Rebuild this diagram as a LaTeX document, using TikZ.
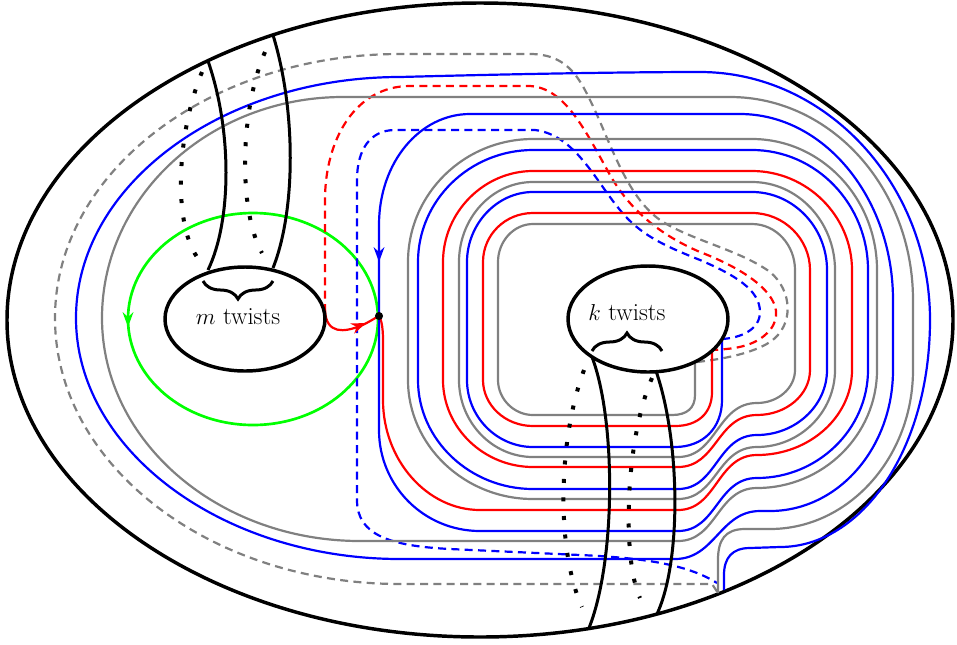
\documentclass[tikz,border=0pt]{standalone}
\usepackage{fontspec}
\usetikzlibrary{decorations.pathreplacing}

\tikzset{every picture/.style={line width=0.75pt}}
\tikzset{
  grayline/.style={color={rgb, 255:red, 128; green, 128; blue, 128 }, line width=1.65pt},
  redline/.style={color={rgb, 255:red, 255; green, 0; blue, 0 }, line width=1.65pt},
  blueline/.style={color={rgb, 255:red, 0; green, 0; blue, 255 }, line width=1.65pt},
  graydashed/.style={grayline, dash pattern=on 6pt off 4pt},
  reddashed/.style={redline, dash pattern=on 6pt off 4pt},
  bluedashed/.style={blueline, dash pattern=on 6pt off 4pt},
  handle/.style={line width=2.25pt},
  handledots/.style={line width=3pt, dash pattern=on 3pt off 10.9pt},
  twistbrace/.style={decorate, decoration={brace, amplitude=13.5pt}, line width=2.25pt},
  twistlabel/.style={font=\fontsize{18.5}{22}\selectfont}
}

\begin{document}
\begin{tikzpicture}[x=0.75pt,y=0.75pt,yscale=-1,xscale=1]
\useasboundingbox (0,0) rectangle (957,644);

%Shape: Ellipse - the surface
\draw [line width=2.6pt] (480,320) ellipse (473 and 317);

%Shape: Ellipse - green loop
\draw [color={rgb, 255:red, 0; green, 255; blue, 0 }, line width=2pt] (253,319) ellipse (125 and 106);
\draw [shift={(128,327)}, rotate = 270] [fill={rgb, 255:red, 0; green, 255; blue, 0 }][line width=0.08] [draw opacity=0] (15,-5.5) -- (0,0) -- (15,5.5) -- (10,0) -- cycle ;

\coordinate (base) at (379,316);

%Curve Lines - gray, back side
\draw [graydashed] (697,362) .. controls (715,360) and (750,355) .. (770,342) .. controls (795,325) and (792,290) .. (770,272) .. controls (740,250) and (690,240) .. (660,220) .. controls (625,195) and (610,140) .. (590,100) .. controls (578,75) and (565,54) .. (530,54) -- (400,54) .. controls (210,54) and (55,172) .. (55,318) .. controls (55,465) and (210,584) .. (400,584) -- (712,584) -- (718,593) ;

%Curve Lines - red, back side
\draw [reddashed] (325,312) -- (325,200) .. controls (325,140) and (355,86) .. (410,86) -- (530,86) .. controls (565,88) and (585,130) .. (610,175) .. controls (630,210) and (660,235) .. (700,252) .. controls (760,275) and (790,305) .. (770,330) .. controls (755,348) and (730,349) .. (712,350) ;

%Curve Lines - blue, back side
\draw [bluedashed] (722,339) .. controls (740,338) and (760,330) .. (760,312) .. controls (760,290) and (735,275) .. (700,260) .. controls (665,246) and (640,235) .. (620,210) .. controls (595,180) and (575,135) .. (535,130) -- (395,130) .. controls (370,130) and (357,150) .. (357,180) -- (357,500) .. controls (357,535) and (390,546) .. (450,549) -- (580,555) .. controls (650,558) and (690,566) .. (717,583) ;

%Curve Lines - gray
\draw [grayline] (695,362) -- (695,395) .. controls (695,408) and (687,415) .. (672,415) -- (533,415)
 .. controls (514,415) and (498,399) .. (498,380) -- (498,262)
 .. controls (498,241) and (514,224) .. (533,224) -- (752,224)
 .. controls (776,224) and (795,245) .. (795,270) -- (795,370)
 .. controls (795,388) and (778,403) .. (757,403)
 .. controls (717,403) and (717,457) .. (678,457) -- (533,457)
 .. controls (492,457) and (459,422) .. (459,380) -- (459,262)
 .. controls (459,218) and (492,182) .. (533,182) -- (752,182)
 .. controls (798,182) and (835,222) .. (835,270) -- (835,370)
 .. controls (835,412) and (800,447) .. (757,447)
 .. controls (717,447) and (717,499) .. (678,499) -- (533,499)
 .. controls (464,499) and (408,445) .. (408,380) -- (408,262)
 .. controls (408,194) and (464,139) .. (533,139) -- (752,139)
 .. controls (821,139) and (877,198) .. (877,270) -- (877,370)
 .. controls (877,435) and (823,488) .. (757,488)
 .. controls (717,488) and (717,541) .. (678,541) -- (360,541)
 .. controls (218,541) and (102,441) .. (102,318)
 .. controls (102,196) and (210,97) .. (343,97) -- (730,97)
 .. controls (831,97) and (913,188) .. (913,300) -- (913,370)
 .. controls (913,457) and (849,529) .. (770,529) -- (745,529)
 .. controls (725,529) and (718,540) .. (718,560) -- (718,593) ;

%Curve Lines - red
\draw [redline] (712,350) -- (712,392) .. controls (712,413) and (698,426) .. (675,426) -- (533,426)
 .. controls (505,426) and (483,405) .. (483,380) -- (483,262)
 .. controls (483,235) and (505,213) .. (533,213) -- (752,213)
 .. controls (784,213) and (810,239) .. (810,270) -- (810,370)
 .. controls (810,395) and (786,415) .. (757,415)
 .. controls (717,415) and (717,467) .. (678,467) -- (533,467)
 .. controls (484,467) and (443,428) .. (443,380) -- (443,262)
 .. controls (443,212) and (484,171) .. (533,171) -- (752,171)
 .. controls (807,171) and (852,216) .. (852,270) -- (852,370)
 .. controls (852,417) and (809,455) .. (757,455)
 .. controls (717,455) and (717,510) .. (678,510) -- (480,510)
 .. controls (427,510) and (383,460) .. (383,400) -- (383,340)
 .. controls (383,326) and (381,319) .. (base) ;

%Curve Lines - blue
\draw [blueline] (722,339) -- (722,400) .. controls (722,428) and (703,447) .. (675,447) -- (533,447)
 .. controls (497,447) and (467,417) .. (467,380) -- (467,262)
 .. controls (467,224) and (497,192) .. (533,192) -- (752,192)
 .. controls (793,192) and (827,227) .. (827,270) -- (827,370)
 .. controls (827,406) and (795,435) .. (757,435)
 .. controls (717,435) and (717,489) .. (678,489) -- (533,489)
 .. controls (470,489) and (418,440) .. (418,380) -- (418,262)
 .. controls (418,200) and (470,150) .. (533,150) -- (752,150)
 .. controls (816,150) and (868,204) .. (868,270) -- (868,370)
 .. controls (868,429) and (818,478) .. (757,478)
 .. controls (717,478) and (717,531) .. (678,531) -- (480,531)
 .. controls (424,531) and (379,486) .. (379,430) -- (base)
 -- (379,225) .. controls (379,162) and (420,114) .. (470,114) -- (740,114)
 .. controls (824,114) and (893,198) .. (893,300) -- (893,370)
 .. controls (893,448) and (838,511) .. (770,511) -- (760,511)
 .. controls (720,511) and (715,559) .. (675,559) -- (400,559)
 .. controls (222,559) and (76,450) .. (76,318)
 .. controls (76,185) and (222,77) .. (400,77)
 .. controls (550,73) and (650,72) .. (700,72)
 .. controls (826,72) and (930,184) .. (930,320)
 .. controls (930,449) and (862,547) .. (780,547) -- (750,548)
 .. controls (732,548) and (724,558) .. (724,575) -- (724,590) ;
\draw [shift={(379,262)}, rotate = 270] [fill={rgb, 255:red, 0; green, 0; blue, 255 }][line width=0.08] [draw opacity=0] (15,-5.5) -- (0,0) -- (15,5.5) -- (10,0) -- cycle ;

%Curve Lines - red, front piece to the base point
\draw [redline] (325,310) .. controls (326,335) and (345,332) .. (360,326) .. controls (368,323) and (373,319) .. (base) ;
\draw [shift={(366,323)}, rotate = 158] [fill={rgb, 255:red, 255; green, 0; blue, 0 }][line width=0.08] [draw opacity=0] (15,-5.5) -- (0,0) -- (15,5.5) -- (10,0) -- cycle ;

%Shape: Circle - base point
\draw [fill=black] (base) circle (3.5);

%Shape: Ellipse - m twists
\draw [line width=2.6pt, fill=white] (245,319) ellipse (80 and 52);
%Shape: Ellipse - k twists
\draw [line width=2.6pt, fill=white] (648,319) ellipse (80 and 53);

%Curve Lines - handle at m
\draw [handle] (208,61) .. controls (232,130) and (232,220) .. (208,270) ;
\draw [handle] (273,35) .. controls (296,110) and (296,210) .. (273,268) ;
\draw [handledots] (202,72) .. controls (178,130) and (172,220) .. (197,257) ;
\draw [handledots] (265,52) .. controls (240,110) and (238,210) .. (262,253) ;

%Curve Lines - handle at k
\draw [handle] (592,357) .. controls (616,420) and (616,560) .. (589,628) ;
\draw [handle] (656,371) .. controls (680,440) and (682,560) .. (657,614) ;
\draw [handledots] (584,370) .. controls (558,440) and (556,550) .. (582,607) ;
\draw [handledots] (652,378) .. controls (625,440) and (622,560) .. (640,598) ;

%Braces
\draw [twistbrace] (273,281) -- (203,281) ;
\draw [twistbrace] (592,351) -- (662,351) ;

% Text Node
\draw (238,317) node [twistlabel] (mtext) {$m$ twists};
% Text Node
\draw (627,313) node [twistlabel] (ktext) {$k$ twists};

\end{tikzpicture}
\end{document}
